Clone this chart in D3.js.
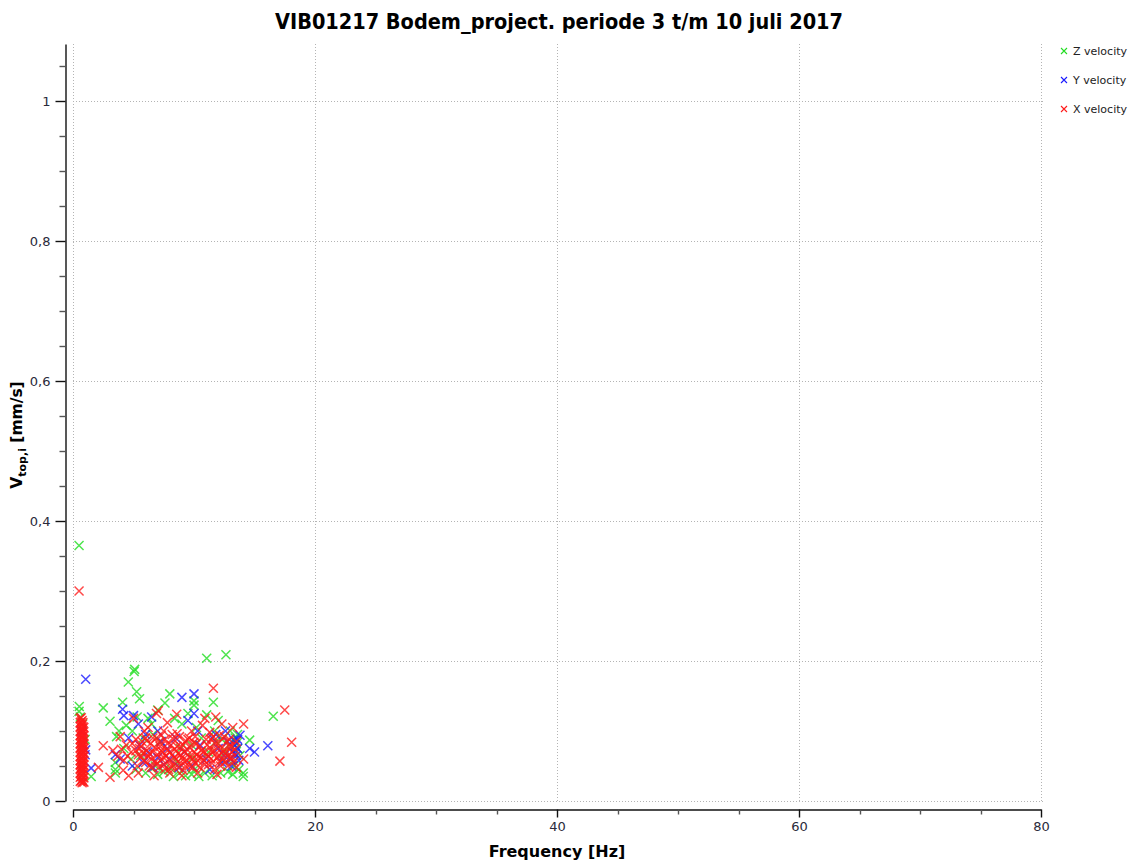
<!DOCTYPE html>
<html>
<head>
<meta charset="utf-8">
<script src="https://cdn.jsdelivr.net/npm/d3@7"></script>
<style>
    body { margin: 0; background: #fff; }
    svg text { font-family: "DejaVu Sans", sans-serif; }
</style>
</head>
<body>
<div id="chart"></div>
<script>
/* eslint-env browser */

var title = "VIB01217 Bodem_project. periode 3 t/m 10 juli 2017",
    xTicks = [0, 20, 40, 60, 80],
    yTicks = [0, 0.2, 0.4, 0.6, 0.8, 1],
    seriesNames = ["Z velocity", "Y velocity", "X velocity"],
    seriesColors = ["#22dd22", "#1a1aff", "#ff1a1a"];

// [frequency Hz, velocity mm/s]
var zVelocity = [
    [0.5, 0.365], [0.52, 0.135], [0.5, 0.128], [0.6, 0.12], [0.8, 0.11], [1.0, 0.088], [1.5, 0.035],
    [2.5, 0.133], [3.06, 0.114], [3.5, 0.055], [3.5, 0.045], [3.5, 0.04], [3.6, 0.092], [4.1, 0.141],
    [4.57, 0.17], [5.1, 0.188], [5.05, 0.185], [5.26, 0.156], [5.5, 0.146], [4.4, 0.108], [4.9, 0.1],
    [5.3, 0.12], [5.8, 0.09], [6.2, 0.118], [6.5, 0.11], [7.0, 0.13], [7.6, 0.14], [8.0, 0.153],
    [8.4, 0.118], [9.0, 0.11], [9.5, 0.125], [10.0, 0.137], [10.0, 0.143], [11.05, 0.204], [12.64, 0.209],
    [11.6, 0.141], [11.05, 0.123], [12.0, 0.115], [13.0, 0.1], [13.4, 0.09], [14.6, 0.087], [14.07, 0.04],
    [14.07, 0.035], [16.55, 0.121], [6.0, 0.04], [7.0, 0.038], [7.5, 0.042], [8.3, 0.035], [8.8, 0.04],
    [9.3, 0.036], [9.8, 0.038], [10.4, 0.035], [10.9, 0.04], [11.5, 0.036], [12.2, 0.04], [12.8, 0.042],
    [13.3, 0.05], [13.0, 0.06], [12.6, 0.07], [13.6, 0.075], [12.9, 0.08], [11.8, 0.085], [10.6, 0.09],
    [9.8, 0.08], [8.9, 0.075], [7.2, 0.085], [6.6, 0.095], [5.6, 0.065], [4.8, 0.06], [4.2, 0.075],
    [9.9, 0.062], [11.2, 0.07], [12.4, 0.058], [13.8, 0.065], [3.8, 0.1], [10.2, 0.105], [11.7, 0.1],
    [13.6, 0.095], [6.8, 0.05], [8.6, 0.055], [5.2, 0.045], [13.7, 0.045], [13.2, 0.038], [10.1, 0.046],
    [8.1, 0.046], [12.3, 0.088], [13.5, 0.082]
];

var yVelocity = [
    [1.05, 0.174], [1.05, 0.073], [1.0, 0.066], [1.5, 0.047], [0.7, 0.1], [0.8, 0.08], [3.5, 0.066],
    [4.1, 0.131], [4.2, 0.122], [5.0, 0.122], [5.4, 0.11], [6.0, 0.095], [6.5, 0.12], [7.0, 0.1],
    [9.0, 0.148], [10.0, 0.153], [10.0, 0.125], [9.5, 0.115], [8.5, 0.09], [7.8, 0.075], [7.0, 0.062],
    [6.2, 0.07], [5.5, 0.08], [4.6, 0.09], [8.0, 0.06], [9.2, 0.07], [10.5, 0.08], [11.0, 0.06],
    [11.5, 0.09], [12.0, 0.075], [12.5, 0.065], [12.8, 0.085], [13.0, 0.06], [13.2, 0.07], [13.3, 0.087],
    [13.5, 0.065], [13.6, 0.075], [13.4, 0.08], [13.1, 0.05], [12.3, 0.055], [11.3, 0.045], [9.8, 0.05],
    [8.8, 0.048], [7.5, 0.052], [6.6, 0.048], [14.6, 0.075], [15.0, 0.07], [16.1, 0.079], [13.8, 0.094],
    [12.6, 0.1], [11.8, 0.095], [10.3, 0.1], [7.3, 0.085], [5.8, 0.055], [4.9, 0.05], [3.9, 0.06],
    [13.7, 0.058], [13.4, 0.068], [13.6, 0.088]
];

var xVelocity = [
    [0.5, 0.30],
    [0.6, 0.028], [0.6, 0.034], [0.6, 0.040], [0.6, 0.046], [0.6, 0.052], [0.6, 0.058], [0.6, 0.064],
    [0.6, 0.070], [0.6, 0.076], [0.6, 0.082], [0.6, 0.088], [0.6, 0.094], [0.6, 0.100], [0.6, 0.106],
    [0.6, 0.112], [0.6, 0.118],
    [0.68, 0.029], [0.68, 0.035], [0.68, 0.041], [0.68, 0.047], [0.68, 0.053], [0.68, 0.059], [0.68, 0.065],
    [0.68, 0.071], [0.68, 0.077], [0.68, 0.083], [0.68, 0.089], [0.68, 0.095], [0.68, 0.101], [0.68, 0.107],
    [0.68, 0.113], [0.68, 0.119],
    [0.75, 0.026], [0.75, 0.031], [0.75, 0.037], [0.75, 0.043], [0.75, 0.049], [0.75, 0.055], [0.75, 0.061],
    [0.75, 0.067], [0.75, 0.073], [0.75, 0.079], [0.75, 0.085], [0.75, 0.091], [0.75, 0.097], [0.75, 0.103],
    [0.75, 0.109], [0.75, 0.115],
    [0.82, 0.028], [0.82, 0.034], [0.82, 0.040], [0.82, 0.046], [0.82, 0.052], [0.82, 0.058], [0.82, 0.064],
    [0.82, 0.070], [0.82, 0.076], [0.82, 0.082], [0.82, 0.088], [0.82, 0.094], [0.82, 0.100], [0.82, 0.106],
    [0.82, 0.112],
    [0.9, 0.027], [0.9, 0.033], [0.9, 0.039], [0.9, 0.045], [0.9, 0.051], [0.9, 0.057], [0.9, 0.063],
    [0.9, 0.069], [0.9, 0.075], [0.9, 0.081], [0.9, 0.087], [0.9, 0.093], [0.9, 0.099], [0.9, 0.105],
    [2.1, 0.048], [2.5, 0.079], [3.06, 0.034], [3.3, 0.072], [3.7, 0.064], [4.15, 0.044], [4.4, 0.08],
    [4.2, 0.058], [4.8, 0.07], [5.0, 0.118], [5.2, 0.088], [5.3, 0.05], [5.5, 0.075], [5.6, 0.062],
    [5.8, 0.068], [5.9, 0.1], [6.0, 0.055], [6.1, 0.072], [6.2, 0.064], [6.3, 0.05], [6.4, 0.082],
    [6.5, 0.06], [6.6, 0.07], [6.8, 0.056], [6.9, 0.125], [7.0, 0.066], [7.05, 0.129], [7.1, 0.048],
    [7.2, 0.078], [7.3, 0.06], [7.4, 0.07], [7.5, 0.052], [7.6, 0.088], [7.7, 0.064], [7.8, 0.072],
    [7.9, 0.045], [8.0, 0.058], [8.1, 0.08], [8.2, 0.066], [8.3, 0.05], [8.4, 0.074], [8.5, 0.06],
    [8.57, 0.124], [8.6, 0.096], [8.7, 0.068], [8.8, 0.054], [8.9, 0.078], [9.0, 0.062], [9.1, 0.044],
    [9.2, 0.07], [9.3, 0.086], [9.4, 0.058], [9.5, 0.066], [9.6, 0.05], [9.7, 0.076], [9.8, 0.1],
    [9.9, 0.06], [10.0, 0.07], [10.1, 0.054], [10.2, 0.082], [10.4, 0.064], [10.5, 0.048], [10.6, 0.072],
    [10.8, 0.058], [11.0, 0.088], [11.1, 0.066], [11.2, 0.052], [11.3, 0.076], [11.4, 0.06], [11.6, 0.161],
    [11.5, 0.07], [11.7, 0.045], [11.8, 0.082], [12.0, 0.064], [12.1, 0.056], [12.2, 0.074], [12.4, 0.06],
    [12.5, 0.092], [12.6, 0.068], [12.8, 0.05], [12.9, 0.078], [13.0, 0.062], [13.1, 0.07], [13.2, 0.105],
    [13.3, 0.056], [13.4, 0.074], [14.1, 0.11], [14.1, 0.06], [17.5, 0.13], [18.07, 0.084], [17.1, 0.057],
    [3.9, 0.092], [4.6, 0.036], [5.4, 0.04], [6.7, 0.036], [8.0, 0.04], [9.0, 0.036], [10.3, 0.04],
    [11.9, 0.038], [6.2, 0.105], [7.5, 0.1], [10.7, 0.108], [12.3, 0.11], [5.7, 0.085], [6.9, 0.09],
    [8.2, 0.095], [9.6, 0.09], [11.3, 0.098], [12.7, 0.085], [13.5, 0.085], [13.5, 0.048], [7.8, 0.112],
    [10.9, 0.118], [11.8, 0.12],
    [5.6, 0.078], [5.9, 0.058], [6.1, 0.086], [6.3, 0.068], [6.5, 0.048], [6.6, 0.09], [6.8, 0.076],
    [7.0, 0.054], [7.1, 0.084], [7.3, 0.072], [7.5, 0.062], [7.6, 0.046], [7.8, 0.082], [8.0, 0.07],
    [8.1, 0.05], [8.3, 0.088], [8.4, 0.062], [8.6, 0.078], [8.7, 0.048], [8.9, 0.066], [9.1, 0.08],
    [9.2, 0.056], [9.4, 0.074], [9.5, 0.088], [9.7, 0.062], [9.9, 0.048], [10.0, 0.084], [10.2, 0.066],
    [10.3, 0.058], [10.5, 0.078], [10.6, 0.062], [10.8, 0.07], [10.9, 0.052], [11.1, 0.08], [11.2, 0.064],
    [11.4, 0.088], [11.5, 0.054], [11.7, 0.072], [11.9, 0.062], [12.0, 0.082], [12.2, 0.05], [12.3, 0.068],
    [12.5, 0.074], [12.6, 0.056], [12.8, 0.064], [12.9, 0.088], [13.1, 0.078], [13.2, 0.062], [6.0, 0.09],
    [7.3, 0.094], [8.8, 0.092], [9.3, 0.05], [10.1, 0.092], [11.6, 0.092], [12.1, 0.094], [5.4, 0.066],
    [5.2, 0.072], [4.9, 0.082], [4.5, 0.064], [4.0, 0.074]
];

var width = 1132,
    height = 863,
    plot = { left: 73, right: 1041, top: 44, bottom: 801 },
    series = [zVelocity, yVelocity, xVelocity];

function crossPath() {
    var s = 4.5;
    return "M" + (-s) + "," + (-s) + "L" + s + "," + s + "M" + (-s) + "," + s + "L" + s + "," + (-s);
}

function commaFormat(v) {
    return d3.format("~g")(v).replace(".", ",");
}

function drawChart() {
    var svg = d3.select("#chart").append("svg")
            .attr("width", width)
            .attr("height", height),
        x = d3.scaleLinear()
            .domain([0, 80])
            .range([plot.left, plot.right]),
        y = d3.scaleLinear()
            .domain([0, 1])
            .range([plot.bottom, plot.bottom - 700]),
        yTop = y.invert(plot.top);

    // grid
    svg.append("g")
        .selectAll("line")
        .data(xTicks)
        .enter().append("line")
        .attr("x1", function (d) { return x(d) + 0.5; })
        .attr("x2", function (d) { return x(d) + 0.5; })
        .attr("y1", plot.top)
        .attr("y2", plot.bottom)
        .attr("stroke", "#b4b4b4")
        .attr("stroke-dasharray", "1,2");

    svg.append("g")
        .selectAll("line")
        .data(yTicks)
        .enter().append("line")
        .attr("x1", plot.left)
        .attr("x2", plot.right + 3)
        .attr("y1", function (d) { return Math.round(y(d)) + 0.5; })
        .attr("y2", function (d) { return Math.round(y(d)) + 0.5; })
        .attr("stroke", "#b4b4b4")
        .attr("stroke-dasharray", "1,2");

    // y axis, offset left of the plot
    var yAxis = svg.append("g")
        .attr("transform", "translate(65.5,0)")
        .call(d3.axisLeft(y.copy().domain([0, yTop]).range([plot.bottom, plot.top]))
            .tickValues(yTicks)
            .tickSize(10)
            .tickSizeOuter(0)
            .tickPadding(5)
            .tickFormat(commaFormat));

    yAxis.selectAll(".tick line").attr("stroke", "#111").attr("stroke-width", 1.4);

    yAxis.append("g")
        .selectAll("line")
        .data(d3.range(1, 22).map(function (i) { return i * 0.05; }).filter(function (v) {
            return Math.abs(v * 5 - Math.round(v * 5)) > 0.01;
        }))
        .enter().append("line")
        .attr("x1", -6)
        .attr("x2", 0)
        .attr("y1", function (d) { return Math.round(y(d)) + 0.5; })
        .attr("y2", function (d) { return Math.round(y(d)) + 0.5; })
        .attr("stroke", "#555")
        .attr("stroke-width", 1.4);

    // x axis, offset below the plot
    var xAxis = svg.append("g")
        .attr("transform", "translate(0,809.5)")
        .call(d3.axisBottom(x)
            .tickValues(xTicks)
            .tickSize(8)
            .tickSizeOuter(0)
            .tickPadding(4));

    xAxis.selectAll(".tick line").attr("stroke", "#111").attr("stroke-width", 1.4);

    xAxis.append("g")
        .selectAll("line")
        .data(d3.range(0, 81, 5).filter(function (v) { return v % 20 !== 0; }))
        .enter().append("line")
        .attr("x1", function (d) { return Math.round(x(d)) + 0.5; })
        .attr("x2", function (d) { return Math.round(x(d)) + 0.5; })
        .attr("y1", 0)
        .attr("y2", 5)
        .attr("stroke", "#555")
        .attr("stroke-width", 1.4);

    svg.selectAll(".domain").attr("stroke", "#111").attr("stroke-width", 1.4);
    svg.selectAll(".tick text")
        .attr("font-size", 13)
        .attr("fill", "#2a2a3a")
        .attr("font-family", "DejaVu Sans, sans-serif");

    // points
    svg.append("g")
        .selectAll("g")
        .data(series)
        .enter().append("g")
        .attr("stroke", function (d, i) { return seriesColors[i]; })
        .attr("stroke-width", 1.5)
        .attr("stroke-opacity", 0.8)
        .attr("fill", "none")
        .selectAll("path")
        .data(function (d) { return d; })
        .enter().append("path")
        .attr("transform", function (d) { return "translate(" + x(d[0]) + "," + y(d[1]) + ")"; })
        .attr("d", crossPath);

    // legend
    var legend = svg.append("g")
        .attr("transform", "translate(1064,51)")
        .selectAll("g")
        .data(seriesNames)
        .enter().append("g")
        .attr("transform", function (d, i) { return "translate(0," + (i * 29) + ")"; });

    legend.append("path")
        .attr("d", function () { return "M-3,-3L3,3M-3,3L3,-3"; })
        .attr("stroke", function (d, i) { return seriesColors[i]; })
        .attr("stroke-width", 1.1);

    legend.append("text")
        .attr("x", 9)
        .attr("y", 4)
        .attr("font-size", 11)
        .attr("fill", "#222")
        .attr("font-family", "DejaVu Sans Condensed, DejaVu Sans, sans-serif")
        .text(function (d) { return d; });

    // titles
    svg.append("text")
        .attr("x", 559)
        .attr("y", 29)
        .attr("text-anchor", "middle")
        .attr("font-size", 21)
        .attr("font-weight", "bold")
        .attr("font-family", "DejaVu Sans Condensed, DejaVu Sans, sans-serif")
        .attr("textLength", 568)
        .attr("lengthAdjust", "spacingAndGlyphs")
        .text(title);

    svg.append("text")
        .attr("x", 557)
        .attr("y", 857)
        .attr("text-anchor", "middle")
        .attr("font-size", 16)
        .attr("font-weight", "bold")
        .attr("font-family", "DejaVu Sans Condensed, DejaVu Sans, sans-serif")
        .text("Frequency [Hz]");

    var yLabel = svg.append("text")
        .attr("transform", "translate(22,435) rotate(-90)")
        .attr("text-anchor", "middle")
        .attr("font-size", 15.5)
        .attr("font-weight", "bold")
        .attr("font-family", "DejaVu Sans Condensed, DejaVu Sans, sans-serif");

    yLabel.append("tspan").text("V");
    yLabel.append("tspan").attr("font-size", 11).attr("dy", 4).text("top,i");
    yLabel.append("tspan").attr("dy", -4).text(" [mm/s]");
}

drawChart();
</script>
</body>
</html>
